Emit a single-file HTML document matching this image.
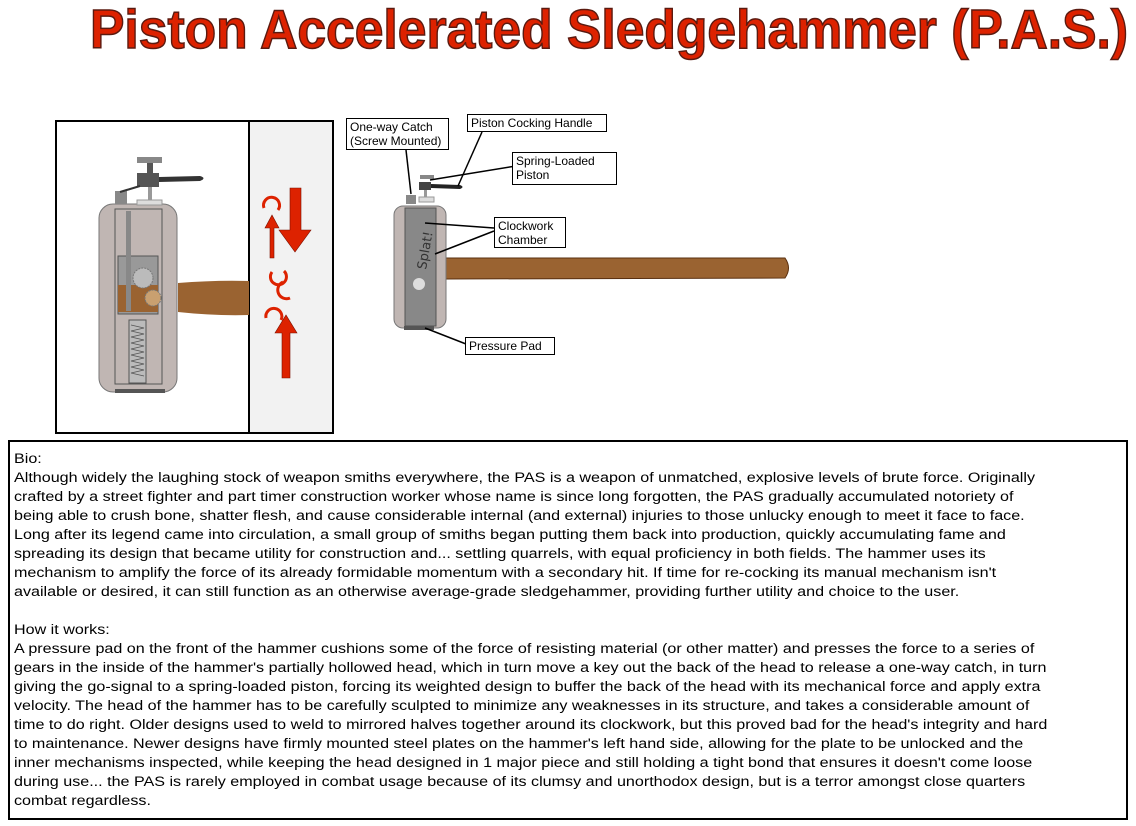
<!DOCTYPE html>
<html><head><meta charset="utf-8"><style>
body{margin:0;width:1136px;height:826px;background:#fff;position:relative;overflow:hidden;font-family:"Liberation Sans",Arial,sans-serif}
.lbl{position:absolute;border:1px solid #000;background:#fff;font-size:12px;line-height:14px;padding:1px 3px;box-sizing:border-box;color:#000}
#bio{position:absolute;left:8px;top:440px;width:1120px;height:380px;border:2px solid #000;box-sizing:border-box;color:#000}
#bt{position:absolute;left:4px;top:8px;font-size:14.2px;line-height:19px;white-space:nowrap;transform:scaleX(1.135);transform-origin:0 0}
</style></head><body>
<svg width="1136" height="826" style="position:absolute;left:0;top:0">
<text x="90" y="48" textLength="1038" lengthAdjust="spacingAndGlyphs" font-family="Liberation Sans" font-weight="bold" font-size="55" fill="#dd2200" stroke="#5a1a10" stroke-width="1.5">Piston Accelerated Sledgehammer (P.A.S.)</text>
<rect x="56" y="121" width="277" height="312" fill="#fff" stroke="#000" stroke-width="2"/>
<rect x="249" y="121" width="84" height="312" fill="#f2f2f2" stroke="#000" stroke-width="2"/>
<path d="M178 283 Q215 280 249 281 L249 315 Q215 316 178 312 Z" fill="#9a6331"/>
<rect x="99" y="204" width="78" height="188" rx="14" fill="#c0b6b3" stroke="#777"/>
<rect x="115" y="389" width="50" height="4" fill="#555"/>
<rect x="115" y="209" width="47" height="175" fill="#c0b6b3" stroke="#555"/>
<rect x="118" y="256" width="40" height="58" fill="#999" stroke="#555"/>
<rect x="118" y="285" width="40" height="27" fill="#9a6331"/>
<rect x="126" y="211" width="5" height="100" fill="#888"/>
<circle cx="143" cy="278" r="10" fill="#bbb" stroke="#777" stroke-dasharray="2 1"/>
<circle cx="153" cy="298" r="8" fill="#c9a070" stroke="#777" stroke-dasharray="2 1"/>
<rect x="129" y="320" width="17" height="63" fill="#bbb" stroke="#555"/>
<path d="M131 325 l13 3 l-13 3 l13 3 l-13 3 l13 3 l-13 3 l13 3 l-13 3 l13 3 l-13 3 l13 3 l-13 3 l13 3 l-13 3 l13 3 l-13 3 l13 3" fill="none" stroke="#555" stroke-width="0.8"/>
<rect x="137" y="157" width="25" height="6" fill="#888"/>
<rect x="147" y="163" width="6" height="10" fill="#555"/>
<rect x="137" y="173" width="22" height="14" fill="#555"/>
<path d="M159 177 L200 176 Q207 178 200 181 L159 182Z" fill="#333"/>
<rect x="148" y="187" width="4" height="14" fill="#999"/>
<rect x="137" y="200" width="25" height="5" fill="#ddd" stroke="#999"/>
<rect x="115" y="191" width="12" height="13" fill="#888"/>
<line x1="120" y1="192" x2="140" y2="186" stroke="#333" stroke-width="2"/>
<g fill="#dd2200" stroke="#7a1000" stroke-width="0.6">
<path d="M290 188 L301 188 L301 230 L311 230 L295 252 L279 230 L290 230Z"/>
<path d="M270 258 L270 228 L265 228 L272 215 L279 228 L274 228 L274 258Z"/>
<path d="M282 333 L282 378 L290 378 L290 333 L297 333 L286 315 L275 333Z"/>
</g>
<g fill="none" stroke="#dd2200" stroke-width="3">
<path d="M264 208 A8 8 0 1 1 278 210"/>
<path d="M284 271 A8 8 0 1 1 272 272"/>
<path d="M283 282 A8 8 0 1 0 290 298"/>
<path d="M266 318 A8 8 0 1 1 281 320"/>
</g>
<path d="M445 258 L785 258 Q792 268 785 278 L445 279Z" fill="#9a6331" stroke="#5a3010"/>
<rect x="394" y="206" width="52" height="122" rx="9" fill="#c0b6b3" stroke="#777"/>
<rect x="405" y="208" width="31" height="118" fill="#888" stroke="#555"/>
<rect x="404" y="326" width="30" height="4" fill="#555"/>
<text x="0" y="0" transform="translate(426,270) rotate(-80)" font-family="DejaVu Sans" font-size="13" fill="#333">Splat!</text>
<circle cx="419" cy="284" r="6" fill="#ddd"/>
<rect x="420" y="175" width="14" height="4" fill="#888"/>
<rect x="419" y="182" width="12" height="8" fill="#444"/>
<path d="M431 184 L460 185 Q465 187 460 189 L431 188Z" fill="#222"/>
<rect x="424" y="190" width="3" height="8" fill="#999"/>
<rect x="419" y="197" width="15" height="5" fill="#ddd" stroke="#999"/>
<rect x="406" y="195" width="10" height="9" fill="#888"/>
<g stroke="#000" stroke-width="1.5">
<line x1="406" y1="150" x2="411" y2="194"/>
<line x1="482" y1="132" x2="458" y2="186"/>
<line x1="516" y1="166" x2="430" y2="180"/>
<line x1="494" y1="228" x2="425" y2="223"/>
<line x1="494" y1="231" x2="435" y2="254"/>
<line x1="466" y1="344" x2="425" y2="328"/>
</g>
</svg>
<div class="lbl" style="left:346px;top:118px;width:103px;height:32px">One-way Catch<br>(Screw Mounted)</div>
<div class="lbl" style="left:467px;top:114px;width:140px;height:18px;line-height:14px">Piston Cocking Handle</div>
<div class="lbl" style="left:512px;top:152px;width:105px;height:33px">Spring-Loaded<br>Piston</div>
<div class="lbl" style="left:494px;top:217px;width:72px;height:31px">Clockwork<br>Chamber</div>
<div class="lbl" style="left:465px;top:337px;width:90px;height:18px">Pressure Pad</div>
<div id="bio"><div id="bt">Bio:<br>
Although widely the laughing stock of weapon smiths everywhere, the PAS is a weapon of unmatched, explosive levels of brute force. Originally<br>
crafted by a street fighter and part timer construction worker whose name is since long forgotten, the PAS gradually accumulated notoriety of<br>
being able to crush bone, shatter flesh, and cause considerable internal (and external) injuries to those unlucky enough to meet it face to face.<br>
Long after its legend came into circulation, a small group of smiths began putting them back into production, quickly accumulating fame and<br>
spreading its design that became utility for construction and... settling quarrels, with equal proficiency in both fields. The hammer uses its<br>
mechanism to amplify the force of its already formidable momentum with a secondary hit. If time for re-cocking its manual mechanism isn't<br>
available or desired, it can still function as an otherwise average-grade sledgehammer, providing further utility and choice to the user.<br>
<br>
How it works:<br>
A pressure pad on the front of the hammer cushions some of the force of resisting material (or other matter) and presses the force to a series of<br>
gears in the inside of the hammer's partially hollowed head, which in turn move a key out the back of the head to release a one-way catch, in turn<br>
giving the go-signal to a spring-loaded piston, forcing its weighted design to buffer the back of the head with its mechanical force and apply extra<br>
velocity. The head of the hammer has to be carefully sculpted to minimize any weaknesses in its structure, and takes a considerable amount of<br>
time to do right. Older designs used to weld to mirrored halves together around its clockwork, but this proved bad for the head's integrity and hard<br>
to maintenance. Newer designs have firmly mounted steel plates on the hammer's left hand side, allowing for the plate to be unlocked and the<br>
inner mechanisms inspected, while keeping the head designed in 1 major piece and still holding a tight bond that ensures it doesn't come loose<br>
during use... the PAS is rarely employed in combat usage because of its clumsy and unorthodox design, but is a terror amongst close quarters<br>
combat regardless.</div></div>
</body></html>
